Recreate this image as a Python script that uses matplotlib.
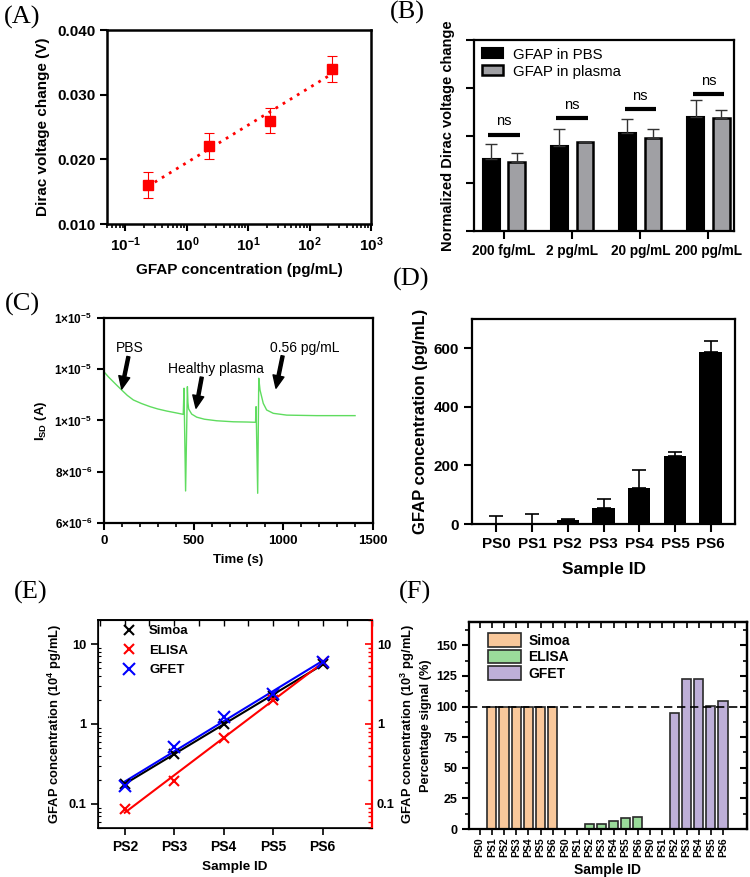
import numpy as np
import matplotlib
matplotlib.use('Agg')
import matplotlib.pyplot as plt
from matplotlib.ticker import (FixedLocator, FixedFormatter, LogLocator, NullFormatter,
                               MultipleLocator, FormatStrFormatter)

plt.rcParams.update({
    'font.family': ['Liberation Sans', 'DejaVu Sans'],
    'font.weight': 'bold',
    'axes.labelweight': 'bold',
    'mathtext.fontset': 'custom',
    'mathtext.rm': 'Liberation Sans:bold',
    'mathtext.bf': 'Liberation Sans:bold',
    'mathtext.it': 'Liberation Sans:bold',
    'mathtext.default': 'bf',
    'xtick.direction': 'out',
    'ytick.direction': 'out',
})

# ---------------- data ----------------
# (A)
A_conc = [0.23, 2.3, 23, 230]
A_dirac = [0.016, 0.022, 0.026, 0.034]
A_err = [0.002, 0.002, 0.002, 0.002]
A_yticks = [0.010, 0.020, 0.030, 0.040]

# (B)
B_groups = ['200 fg/mL', '2 pg/mL', '20 pg/mL', '200 pg/mL']
B_pbs = [1.50, 1.79, 2.06, 2.39]
B_pbs_err = [0.33, 0.34, 0.29, 0.35]
B_plasma = [1.45, 1.87, 1.94, 2.36]
B_plasma_err = [0.18, 0.0, 0.19, 0.17]
B_ns_height = [2.02, 2.37, 2.55, 2.86]
B_legend = ['GFAP in PBS', 'GFAP in plasma']

# (C)
C_time = [0, 25, 52, 75, 100, 130, 164, 210, 257, 300, 349, 400, 442, 446, 455, 465,
          468, 472, 489, 517, 560, 628, 721, 800, 845, 848, 857, 863, 870, 888, 907,
          944, 1019, 1100, 1186, 1300, 1400]
C_current_uA = [11.90, 11.70, 11.51, 11.35, 11.18, 10.98, 10.80, 10.66, 10.54, 10.45,
                10.37, 10.30, 10.24, 11.26, 7.25, 11.32, 10.70, 10.45, 10.25, 10.13,
                10.05, 9.99, 9.95, 9.94, 9.93, 10.54, 7.16, 11.65, 11.19, 10.67, 10.41,
                10.28, 10.21, 10.20, 10.19, 10.19, 10.19]
C_yticks = [6e-6, 8e-6, 1.0e-5, 1.2e-5, 1.4e-5]
C_yticklabels = ['6×10$^{-6}$', '8×10$^{-6}$', '1×10$^{-5}$', '1×10$^{-5}$', '1×10$^{-5}$']
C_xticks = [0, 500, 1000, 1500]
C_notes = ['PBS', 'Healthy plasma', '0.56 pg/mL']

# (D)
D_ids = ['PS0', 'PS1', 'PS2', 'PS3', 'PS4', 'PS5', 'PS6']
D_conc = [0, 0, 15, 53, 122, 232, 588]
D_err = [29, 34, 2, 34, 62, 15, 36]

# (E)
E_ids = ['PS2', 'PS3', 'PS4', 'PS5', 'PS6']
E_simoa = [0.178, 0.42, 1.0, 2.26, 5.62]
E_elisa = [0.087, 0.196, 0.668, 2.0, 6.0]
E_gfet = [0.166, 0.52, 1.21, 2.37, 6.0]
E_methods = ['Simoa', 'ELISA', 'GFET']

# (F)
F_ids = ['PS0', 'PS1', 'PS2', 'PS3', 'PS4', 'PS5', 'PS6']
F_simoa = [0, 100, 100, 100, 100, 100, 100]
F_elisa = [0, 0, 4.3, 3.8, 6.2, 8.6, 10.2]
F_gfet = [0, 0, 94.5, 122.2, 122.8, 100.7, 104.8]

# ---------------- figure ----------------
W, H = 750, 877
fig = plt.figure(figsize=(W / 100, H / 100), dpi=100)


def add_ax(l, r, t, b):
    return fig.add_axes([l / W, 1 - b / H, (r - l) / W, (b - t) / H])


def style_spines(ax, lw):
    for s in ax.spines.values():
        s.set_linewidth(lw)


# ----- (A) -----
axA = add_ax(107, 371, 30, 224)
axA.set_xscale('log')
fitA = np.polyfit(np.log10(A_conc), A_dirac, 1)
xsA = np.logspace(np.log10(A_conc[0]), np.log10(A_conc[-1]), 60)
axA.plot(xsA, np.polyval(fitA, np.log10(xsA)), ls=(0, (1, 2)), color='red', lw=2)
axA.errorbar(A_conc, A_dirac, yerr=A_err, fmt='s', color='red', ms=6.5,
             capsize=3.5, elinewidth=0.8, capthick=0.8, zorder=3)
axA.set_xlim(0.05, 1000)
axA.set_ylim(0.010, 0.040)
axA.yaxis.set_major_locator(FixedLocator(A_yticks))
axA.yaxis.set_major_formatter(FormatStrFormatter('%.3f'))
axA.xaxis.set_major_locator(LogLocator(base=10, numticks=10))
axA.xaxis.set_minor_locator(LogLocator(base=10, subs=np.arange(2, 10), numticks=20))
axA.xaxis.set_minor_formatter(NullFormatter())
axA.tick_params(which='major', labelsize=11, length=5, width=1.5)
axA.tick_params(which='minor', length=3, width=1.2)
axA.set_xlabel('GFAP concentration (pg/mL)', fontsize=11, labelpad=6)
axA.set_ylabel('Dirac voltage change (V)', fontsize=11, labelpad=5)
style_spines(axA, 1.8)

# ----- (B) -----
axB = add_ax(474, 734, 40, 231)
xB = np.arange(len(B_groups))
ekw = dict(elinewidth=1.0, capthick=1.0, ecolor='#333333')
bb1 = axB.bar(xB - 0.188, B_pbs, 0.245, color='black', edgecolor='black', lw=1.5,
              yerr=[np.zeros(4), B_pbs_err], capsize=4, error_kw=ekw, label=B_legend[0])
bb2 = axB.bar(xB + 0.188, B_plasma, 0.245, color='#a0a0a4', edgecolor='black', lw=1.8,
              yerr=[np.zeros(4), B_plasma_err], capsize=4, error_kw=ekw, label=B_legend[1])
for i, h in enumerate(B_ns_height):
    axB.plot([i - 0.23, i + 0.23], [h, h], color='black', lw=3, solid_capstyle='butt')
    axB.text(i, h + 0.19, 'ns', ha='center', va='baseline', fontsize=10.5,
             fontweight='normal')
axB.set_xlim(-0.44, 3.375)
axB.set_ylim(0, 4)
axB.set_yticks([0, 1, 2, 3, 4])
axB.set_yticklabels([])
axB.set_xticks(xB)
axB.set_xticklabels(B_groups, fontsize=9.8)
axB.tick_params(length=6, width=1.5)
axB.set_ylabel('Normalized Dirac voltage change', fontsize=10.5, labelpad=4)
axB.legend(handles=[bb1, bb2], loc='upper left', bbox_to_anchor=(0.03, 0.96),
           frameon=False, prop={'size': 10.8, 'weight': 'normal'}, handlelength=1.4,
           handleheight=0.65, labelspacing=0.2, borderpad=0, borderaxespad=0,
           handletextpad=0.7)
style_spines(axB, 1.6)

# ----- (C) -----
axC = add_ax(104, 373, 318, 523)
axC.plot(C_time, np.array(C_current_uA) * 1e-6, color='#5fdc5f', lw=1)
axC.set_xlim(0, 1500)
axC.set_ylim(6e-6, 1.4e-5)
axC.yaxis.set_major_locator(FixedLocator(C_yticks))
axC.yaxis.set_major_formatter(FixedFormatter(C_yticklabels))
axC.xaxis.set_major_locator(FixedLocator(C_xticks))
axC.xaxis.set_minor_locator(MultipleLocator(100))
axC.tick_params(axis='y', labelsize=8.5)
axC.tick_params(axis='x', labelsize=9.5)
axC.tick_params(which='major', length=5, width=1.5)
axC.tick_params(which='minor', length=3, width=1.2)
axC.set_xlabel('Time (s)', fontsize=9.5, labelpad=5)
axC.set_ylabel('I$_{SD}$ (A)', fontsize=9.5, labelpad=4)
arr = dict(facecolor='black', edgecolor='black', width=2.2, headwidth=8, headlength=9,
           shrink=0)
axC.annotate('', xy=(99, 11.23e-6), xytext=(136, 12.49e-6), arrowprops=arr)
axC.annotate('', xy=(513, 10.48e-6), xytext=(545, 11.69e-6), arrowprops=arr)
axC.annotate('', xy=(959, 11.26e-6), xytext=(996, 12.52e-6), arrowprops=arr)
axC.text(143, 12.82e-6, C_notes[0], ha='center', va='center', fontsize=10,
         fontweight='normal')
axC.text(623, 12.02e-6, C_notes[1], ha='center', va='center', fontsize=10,
         fontweight='normal')
axC.text(1122, 12.82e-6, C_notes[2], ha='center', va='center', fontsize=10,
         fontweight='normal')
style_spines(axC, 1.6)

# ----- (D) -----
axD = add_ax(472, 735, 319, 524)
xD = np.arange(len(D_ids))
axD.bar(xD, D_conc, 0.63, color='black', yerr=[np.zeros(7), D_err], capsize=5,
        error_kw=dict(elinewidth=1.2, capthick=1.2, ecolor='black'))
axD.set_xlim(-0.68, 6.68)
axD.set_ylim(0, 700)
axD.set_yticks([0, 200, 400, 600])
axD.set_xticks(xD)
axD.set_xticklabels(D_ids)
axD.tick_params(labelsize=11, length=6, width=1.5)
axD.set_xlabel('Sample ID', fontsize=12.5, labelpad=8)
axD.set_ylabel('GFAP concentration (pg/mL)', fontsize=12, labelpad=4)
style_spines(axD, 1.6)

# ----- (E) -----
axE = add_ax(98, 372, 620, 828)
xE = np.arange(2, 2 + len(E_ids))
E_series = [(E_simoa, 'black', 7, E_methods[0]),
            (E_elisa, 'red', 7, E_methods[1]),
            (E_gfet, 'blue', 8.5, E_methods[2])]
for vals, c, ms, lab in E_series:
    fit = np.polyfit(xE, np.log10(vals), 1)
    axE.plot(xE, 10 ** np.polyval(fit, xE), color=c, lw=1.5)
for vals, c, ms, lab in E_series:
    axE.plot(xE, vals, 'x', color=c, ms=ms, mew=1.5, label=lab, ls='none')
axE.set_yscale('log')
axE.set_ylim(0.05, 20)
axE.set_xlim(1.46, 7.0)
axE.set_xticks(xE)
axE.set_xticklabels(E_ids)
axE.yaxis.set_major_locator(FixedLocator([0.1, 1, 10]))
axE.yaxis.set_major_formatter(FixedFormatter(['0.1', '1', '10']))
axE.yaxis.set_minor_locator(LogLocator(base=10, subs=np.arange(2, 10), numticks=20))
axE.yaxis.set_minor_formatter(NullFormatter())
axE.tick_params(axis='x', labelsize=10, length=5, width=1.2)
axE.tick_params(axis='y', which='major', labelsize=9.3, length=5, width=1.2)
axE.tick_params(axis='y', which='minor', direction='in', length=2.5, width=0.8)
axE.set_xlabel('Sample ID', fontsize=9.7, labelpad=5)
axE.set_ylabel('GFAP concentration (10$^4$ pg/mL)', fontsize=9.3, labelpad=3)
topE = axE.secondary_xaxis('top')
topE.xaxis.set_major_locator(MultipleLocator(0.5))
topE.tick_params(direction='in', length=4, width=1, labeltop=False)
topE.spines['top'].set_linewidth(1.2)
axE2 = axE.twinx()
axE2.set_yscale('log')
axE2.set_ylim(0.05, 20)
axE2.yaxis.set_major_locator(FixedLocator([0.1, 1, 10]))
axE2.yaxis.set_major_formatter(FixedFormatter(['0.1', '1', '10']))
axE2.yaxis.set_minor_locator(LogLocator(base=10, subs=np.arange(2, 10), numticks=20))
axE2.yaxis.set_minor_formatter(NullFormatter())
axE2.tick_params(axis='y', which='major', direction='in', colors='red', labelcolor='black',
                 labelsize=9.3, length=5, width=1.2)
axE2.tick_params(axis='y', which='minor', direction='in', colors='red', length=3, width=1)
axE2.spines['right'].set_color('red')
axE2.spines['right'].set_linewidth(1.6)
axE2.set_ylabel('GFAP concentration (10$^3$ pg/mL)', fontsize=9.3, labelpad=3)
for s in ['left', 'bottom', 'top']:
    axE.spines[s].set_linewidth(1.2)
axE.spines['right'].set_visible(False)
axE.legend(loc='upper left', bbox_to_anchor=(0.09, 0.975), frameon=False,
           prop={'size': 9.5, 'weight': 'bold'}, handlelength=1.0, handletextpad=1.0,
           labelspacing=0.55, borderpad=0, borderaxespad=0)

# ----- (F) -----
axF = add_ax(469, 747, 622, 829)
nF = len(F_ids)
xF = np.arange(3 * nF)
edge = dict(edgecolor='#2a2a2a', lw=1.2)
fb1 = axF.bar(xF[0:nF], F_simoa, 0.75, color='#F9C89B', label='Simoa', **edge)
fb2 = axF.bar(xF[nF:2 * nF], F_elisa, 0.75, color='#9ADB9A', label='ELISA', **edge)
fb3 = axF.bar(xF[2 * nF:], F_gfet, 0.75, color='#BEAFD8', label='GFET', **edge)
axF.axhline(100, color='black', ls=(0, (5, 2.8)), lw=1.2)
axF.set_xlim(-0.88, 21.97)
axF.set_ylim(0, 169)
axF.yaxis.set_major_locator(MultipleLocator(25))
axF.yaxis.set_minor_locator(MultipleLocator(12.5))
axF.set_xticks(xF)
axF.set_xticklabels(F_ids * 3, rotation=90, fontsize=7.5)
axF.tick_params(axis='y', which='major', labelsize=9, length=5, width=1.5)
axF.tick_params(axis='y', which='minor', length=3, width=1.2)
axF.tick_params(axis='x', length=4, width=1.2, pad=2)
axF.set_xlabel('Sample ID', fontsize=10, labelpad=4)
axF.set_ylabel('Percentage signal (%)', fontsize=9.2, labelpad=3)
rF = axF.secondary_yaxis('right')
rF.yaxis.set_major_locator(MultipleLocator(25))
rF.yaxis.set_minor_locator(MultipleLocator(12.5))
rF.tick_params(which='major', direction='in', length=5, width=1.5, labelright=False)
rF.tick_params(which='minor', direction='in', length=3, width=1.2)
rF.spines['right'].set_linewidth(1.6)
tF = axF.secondary_xaxis('top')
tF.xaxis.set_major_locator(MultipleLocator(1))
tF.tick_params(direction='in', length=4, width=1.2, labeltop=False)
tF.spines['top'].set_linewidth(1.6)
style_spines(axF, 1.6)
axF.legend(handles=[fb1, fb2, fb3], loc='upper left', bbox_to_anchor=(0.068, 0.945),
           frameon=False, prop={'size': 10, 'weight': 'bold'}, handlelength=2.4,
           handleheight=1.15, labelspacing=0.12, borderpad=0, borderaxespad=0,
           handletextpad=0.5)

# ----- panel labels -----
for lab, (px, py) in zip(['(A)', '(B)', '(C)', '(D)', '(E)', '(F)'],
                         [(22, 17), (407, 12), (22, 304), (411, 279), (31, 592), (415, 592)]):
    fig.text(px / W, 1 - py / H, lab, family='Liberation Serif', fontsize=19,
             fontweight='normal', ha='center', va='center')

fig.savefig('out.png', dpi=100)
